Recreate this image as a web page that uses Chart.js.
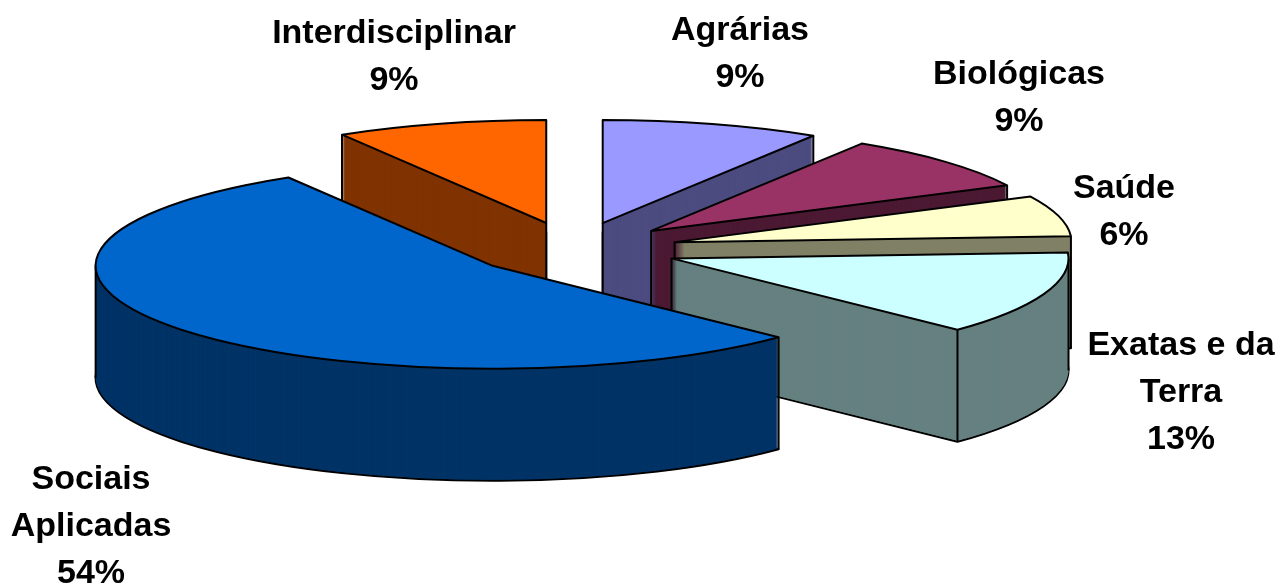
<!DOCTYPE html>
<html>
<head>
<meta charset="utf-8">
<style>
  html, body { margin: 0; padding: 0; background: #fff; }
  canvas { display: block; }
</style>
<script src="https://cdn.jsdelivr.net/npm/chart.js@4"></script>
</head>
<body>
<canvas id="myChart" width="1281" height="586"></canvas>
<script>
const categories = ['Agrárias', 'Biológicas', 'Saúde', 'Exatas e da Terra', 'Sociais Aplicadas', 'Interdisciplinar'];
// the labels show them rounded
const shares = [8.9, 8.8, 6.4, 13.1, 54.2, 8.6];
const topColors = ['#9999FF', '#993366', '#FFFFCC', '#CCFFFF', '#0066CC', '#FF6600'];
const sideColors = ['#4C4C80', '#4C1933', '#808066', '#668080', '#003366', '#803300'];

// pie look: the flat doughnut is squashed and given a wall
const pieCenter = { x: 574, y: 249 };
const pieRadius = 397;
const squash = 0.2594;
const depth = 112;
const explode = 104;
const lineWidth = 2;
const paintOrder = [5, 0, 1, 2, 3, 4]; // back to front

// text: one row per slice, split the way the labels wrap
const labelRows = [['Agrárias'], ['Biológicas'], ['Saúde'], ['Exatas e da', 'Terra'], ['Sociais', 'Aplicadas'], ['Interdisciplinar']];
const labelSpots = [
  { x: 740, y: 31 }, { x: 1019, y: 75 }, { x: 1124, y: 189 },
  { x: 1181, y: 346 }, { x: 91, y: 480 }, { x: 394, y: 34 }
];
const labelGap = 47;

function paintArc(arc, ctx, fill, stroke, width) {
  const saved = arc.options;
  arc.options = {
    backgroundColor: fill, borderColor: stroke, borderWidth: width, borderAlign: 'center',
    borderJoinStyle: 'round', borderRadius: 0, borderDash: [], borderDashOffset: 0,
    offset: 0, spacing: 0, circular: true
  };
  arc.draw(ctx);
  arc.options = saved;
}

const pie3d = {
  id: 'pie3d',
  beforeDatasetsDraw(chart) {
    const ctx = chart.ctx;
    const arcs = chart.getDatasetMeta(0).data;

    // stroke in screen space, otherwise the squash thins the outline
    ctx.stroke = function () {
      const t = ctx.getTransform();
      ctx.setTransform(1, 0, 0, 1, 0, 0);
      CanvasRenderingContext2D.prototype.stroke.call(ctx);
      ctx.setTransform(t);
    };

    paintOrder.forEach(i => {
      const arc = arcs[i];
      const start = arc.startAngle, end = arc.endAngle;
      const mid = (start + end) / 2;
      const px = pieCenter.x + Math.cos(mid) * explode;
      const py = pieCenter.y + Math.sin(mid) * explode * squash;
      const place = lift => ctx.setTransform(1, 0, 0, squash, px - arc.x, py + lift - arc.y * squash);

      // wall
      place(depth);
      paintArc(arc, ctx, sideColors[i], '#000', lineWidth);
      for (let d = depth - 1; d > 0; d--) {
        place(d);
        paintArc(arc, ctx, sideColors[i], '#000', 0);
      }

      // wall corners: only where a face next to the corner looks at the viewer
      const startFront = Math.cos(start) < 0;
      const endFront = Math.cos(end) > 0;
      const corners = [];
      if (startFront || Math.sin(start) > 0) corners.push(start);
      if (endFront || Math.sin(end) > 0) corners.push(end);
      [0, Math.PI].forEach(a => {
        if (a > start && a < end) corners.push(a);
      });
      ctx.setTransform(1, 0, 0, 1, 0, 0);
      ctx.strokeStyle = '#000';
      ctx.lineWidth = lineWidth;
      ctx.beginPath();
      if (startFront || endFront) {
        ctx.moveTo(px, py);
        ctx.lineTo(px, py + depth);
      }
      corners.forEach(a => {
        const x = px + Math.cos(a) * pieRadius;
        const y = py + Math.sin(a) * pieRadius * squash;
        ctx.moveTo(x, y);
        ctx.lineTo(x, y + depth);
      });
      ctx.stroke();

      // top face
      place(0);
      paintArc(arc, ctx, topColors[i], '#000', lineWidth);
    });

    ctx.setTransform(1, 0, 0, 1, 0, 0);
    delete ctx.stroke;
    return false;
  },
  // afterDatasetsDraw is skipped once beforeDatasetsDraw returns false
  afterDraw(chart) {
    const ctx = chart.ctx;
    ctx.save();
    ctx.fillStyle = '#000';
    ctx.font = 'bold 34px "Liberation Sans", Arial, sans-serif';
    ctx.textAlign = 'center';
    ctx.textBaseline = 'middle';
    labelRows.forEach((rows, i) => {
      const lines = rows.concat(Math.round(shares[i]) + '%');
      lines.forEach((line, n) => ctx.fillText(line, labelSpots[i].x, labelSpots[i].y + n * labelGap));
    });
    ctx.restore();
  }
};

const myPieChart = new Chart(document.getElementById('myChart').getContext('2d'), {
  type: 'pie',
  data: {
    labels: categories,
    datasets: [{ data: shares, backgroundColor: topColors, borderColor: '#000', borderWidth: 1 }]
  },
  options: {
    responsive: false,
    animation: false,
    radius: pieRadius,
    plugins: { legend: { display: false }, tooltip: { enabled: false } }
  },
  plugins: [pie3d]
});
</script>
</body>
</html>
